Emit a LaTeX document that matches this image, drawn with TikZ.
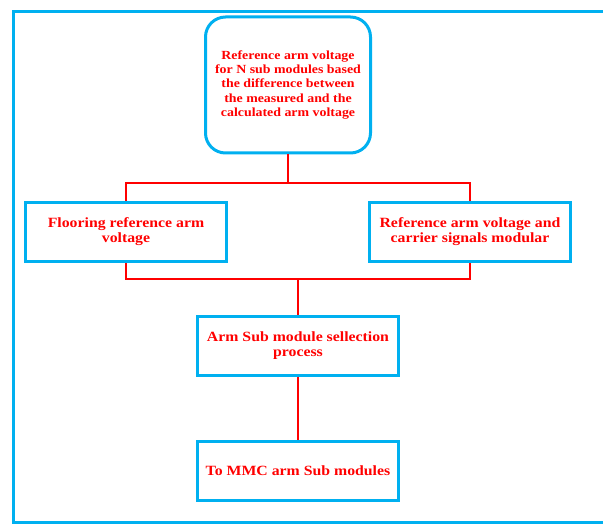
\documentclass[tikz,border=0pt]{standalone}
\usepackage{fontspec}
\setmainfont{Liberation Serif}[FakeStretch=1.12]
\usetikzlibrary{positioning}
\definecolor{frameblue}{RGB}{0,176,240}
\definecolor{textred}{RGB}{255,0,0}
\tikzset{
	block/.style={draw=frameblue, line width=3pt, fill=white, align=center,
		minimum width=201pt, minimum height=59pt, inner sep=2pt,
		text=textred, font=\fontsize{14.1}{15}\selectfont\bfseries},
	link/.style={draw=textred, line width=1.5pt},
}
\begin{document}
\begin{tikzpicture}[x=1pt, y=-1pt]
			\useasboundingbox (0,0) rectangle (603,524);
			% outer frame, cut at the right side
			\draw[frameblue, line width=3pt] (603,12) -- (13,12) -- (13,522) -- (603,522);
			%
			\node[block, rounded corners=20pt, minimum width=165pt, minimum height=136pt,
				font=\fontsize{12.4}{14.4}\selectfont\bfseries] (ref) at (288,85)
				{Reference arm voltage\\for N sub modules based\\the difference between\\the measured and the\\calculated arm voltage};
			\node[block] (floor) at (126,232) {Flooring reference arm\\voltage};
			\node[block] (carrier) at (470,232) {Reference arm voltage and\\carrier signals modular};
			\node[block] (select) at (298,345.5) {Arm Sub module sellection\\process};
			\node[block] (mmc) at (298,471) {To MMC arm Sub modules};
			%
			\coordinate (fork) at (288,183);
			\coordinate (join) at (298,279);
			\draw[link] (ref.south) -- (fork);
			\draw[link] (floor.north) |- (fork) -| (carrier.north);
			\draw[link] (floor.south) |- (join) -| (carrier.south);
			\draw[link] (join) -- (select.north);
			\draw[link] (select.south) -- (mmc.north);
\end{tikzpicture}
\end{document}
